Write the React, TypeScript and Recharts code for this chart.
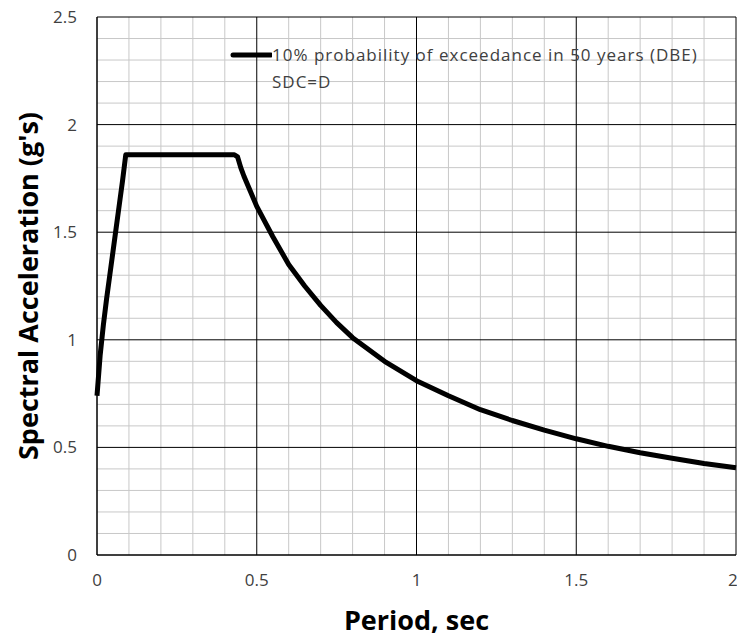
import { LineChart, Line, XAxis, YAxis, ReferenceLine, Legend } from 'recharts';

// Design response spectrum, period (sec) vs spectral acceleration (g)
const periods = [
  0, 0.01, 0.02, 0.03, 0.04, 0.05, 0.06, 0.07, 0.08, 0.09,
  0.43, 0.44, 0.45, 0.46, 0.48, 0.5, 0.55, 0.6, 0.65, 0.7, 0.75, 0.8,
  0.9, 1.0, 1.1, 1.2, 1.3, 1.4, 1.5, 1.6, 1.7, 1.8, 1.9, 2.0,
];
const accel = [
  0.74, 0.93, 1.07, 1.19, 1.3, 1.41, 1.52, 1.63, 1.74, 1.86,
  1.86, 1.85, 1.8, 1.76, 1.69, 1.62, 1.48, 1.35, 1.25, 1.16, 1.08, 1.01,
  0.9, 0.81, 0.74, 0.675, 0.625, 0.58, 0.54, 0.505, 0.475, 0.45, 0.425, 0.405,
];

const xTicks = [0, 0.5, 1, 1.5, 2];
const yTicks = [0, 0.5, 1, 1.5, 2, 2.5];
const xMinor = [0.1, 0.2, 0.3, 0.4, 0.6, 0.7, 0.8, 0.9, 1.1, 1.2, 1.3, 1.4, 1.6, 1.7, 1.8, 1.9];
const yMinor = [0.1, 0.2, 0.3, 0.4, 0.6, 0.7, 0.8, 0.9, 1.1, 1.2, 1.3, 1.4, 1.6, 1.7, 1.8, 1.9, 2.1, 2.2, 2.3, 2.4];

const seriesName = '10% probability of exceedance in 50 years (DBE)';
const seriesNote = 'SDC=D';

const data = periods.map((t, i) => ({ t, sa: accel[i] }));

const FONT = '"Open Sans", sans-serif';
const tickStyle = { fontSize: 17, fill: '#404040', fontFamily: FONT };

const LegendBox = () => (
  <div style={{ fontFamily: FONT, fontSize: 17, color: '#404040', lineHeight: '27px', letterSpacing: 1, whiteSpace: 'nowrap' }}>
    <div style={{ display: 'flex', alignItems: 'center' }}>
      <svg width={42} height={10}>
        <line x1={3} y1={5} x2={41} y2={5} stroke="#000" strokeWidth={5} strokeLinecap="round" />
      </svg>
      <span>{seriesName}</span>
    </div>
    <div style={{ paddingLeft: 42 }}>{seriesNote}</div>
  </div>
);

export default function App() {
  return (
    <div style={{ position: 'absolute', left: 0, top: 0, background: '#fff' }}>
      <LineChart width={737} height={639} data={data} margin={{ top: 17, right: 1, bottom: 0, left: 0 }}>
        {xMinor.map(v => (
          <ReferenceLine key={'xm' + v} x={v} stroke="#c8c8c8" strokeWidth={1} />
        ))}
        {yMinor.map(v => (
          <ReferenceLine key={'ym' + v} y={v} stroke="#c8c8c8" strokeWidth={1} />
        ))}
        {xTicks.map(v => (
          <ReferenceLine key={'xM' + v} x={v} stroke="#000" strokeWidth={1} />
        ))}
        {yTicks.map(v => (
          <ReferenceLine key={'yM' + v} y={v} stroke="#000" strokeWidth={1} />
        ))}
        <XAxis
          type="number"
          dataKey="t"
          domain={[0, 2]}
          ticks={xTicks}
          height={84}
          axisLine={{ stroke: '#000' }}
          tickLine={false}
          tickMargin={13}
          tick={tickStyle}
          label={{ value: 'Period, sec', position: 'insideBottom', offset: 9, style: { fontSize: 27, fontWeight: 700, fill: '#000', fontFamily: FONT } }}
        />
        <YAxis
          type="number"
          domain={[0, 2.5]}
          ticks={yTicks}
          width={97}
          axisLine={{ stroke: '#000' }}
          tickLine={false}
          tickMargin={14}
          tick={tickStyle}
          label={{ value: "Spectral Acceleration (g's)", angle: -90, position: 'insideLeft', offset: 28, style: { textAnchor: 'middle', fontSize: 27, fontWeight: 700, fill: '#000', fontFamily: FONT } }}
        />
        <Legend
          verticalAlign="middle"
          align="center"
          layout="horizontal"
          content={<LegendBox />}
          wrapperStyle={{ position: 'absolute', left: 230, top: 41, width: 'auto' }}
        />
        <Line
          type="linear"
          dataKey="sa"
          name={seriesName}
          stroke="#000"
          strokeWidth={5}
          strokeLinejoin="round"
          dot={false}
          isAnimationActive={false}
        />
      </LineChart>
    </div>
  );
}
